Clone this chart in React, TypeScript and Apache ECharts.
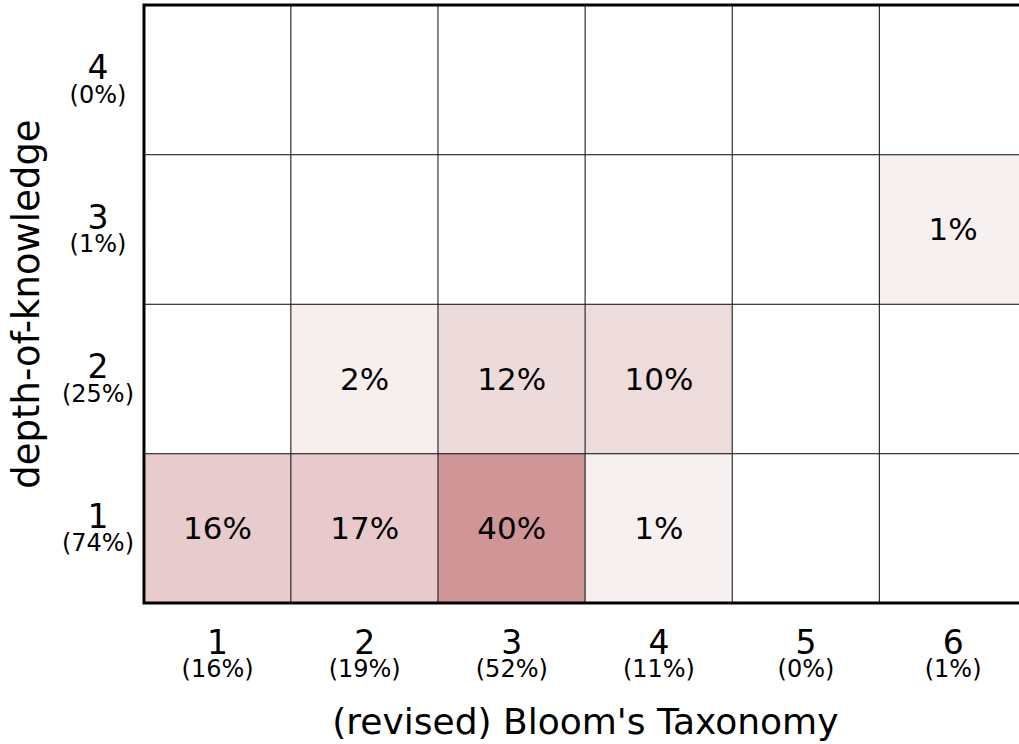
import React, { useEffect, useRef } from "react";
import * as echarts from "echarts";

const bloomLevels = ["1", "2", "3", "4", "5", "6"];
const bloomTotals = [16, 19, 52, 11, 0, 1];
const dokLevels = ["1", "2", "3", "4"];
const dokTotals = [74, 25, 1, 0];
// rows: depth-of-knowledge 1..4, columns: Bloom 1..6 (percent)
const dok1 = [16, 17, 40, 1, 0, 0];
const dok2 = [0, 2, 12, 10, 0, 0];
const dok3 = [0, 0, 0, 0, 0, 1];
const dok4 = [0, 0, 0, 0, 0, 0];
const rows = [dok1, dok2, dok3, dok4];

const xTitle = "(revised) Bloom's Taxonomy";
const yTitle = "depth-of-knowledge";

const FONT = "DejaVu Sans";

export default function App() {
  const ref = useRef<HTMLDivElement>(null);
  useEffect(() => {
    if (!ref.current) return;
    const chart = echarts.init(ref.current, null, { renderer: "svg" });
    const data: number[][] = [];
    rows.forEach((r, yi) => r.forEach((v, xi) => data.push([xi, yi, v])));
    const cellW = 147.2;
    chart.setOption({
      animation: false,
      backgroundColor: "#fff",
      textStyle: { fontFamily: FONT },
      grid: {
        left: 143.5,
        top: 5,
        width: cellW * 6,
        height: 599,
        show: true,
        borderColor: "#000",
        borderWidth: 3,
        backgroundColor: "transparent",
        z: 10,
      },
      xAxis: {
        type: "category",
        data: bloomLevels,
        axisLine: { show: false },
        axisTick: { show: false },
        splitLine: { show: false },
        axisLabel: {
          margin: 24,
          formatter: (v: string, i: number) => `{a|${v}}\n{b|(${bloomTotals[i]}%)}`,
          rich: {
            a: { fontSize: 33, fontFamily: FONT, color: "#000", lineHeight: 30 },
            b: { fontSize: 24, fontFamily: FONT, color: "#000", lineHeight: 24 },
          },
        },
        name: xTitle,
        nameLocation: "middle",
        nameGap: 100,
        nameTextStyle: { fontSize: 36, fontFamily: FONT, color: "#000" },
      },
      yAxis: {
        type: "category",
        data: dokLevels,
        axisLine: { show: false },
        axisTick: { show: false },
        splitLine: { show: false },
        axisLabel: {
          margin: 46,
          align: "center",
          formatter: (v: string, i: number) => `{a|${v}}\n{b|(${dokTotals[i]}%)}`,
          rich: {
            a: { fontSize: 33, fontFamily: FONT, color: "#000", lineHeight: 30, align: "center" },
            b: { fontSize: 24, fontFamily: FONT, color: "#000", lineHeight: 24, align: "center" },
          },
        },
        name: yTitle,
        nameLocation: "middle",
        nameGap: 99,
        nameTextStyle: { fontSize: 37, fontFamily: FONT, color: "#000" },
      },
      visualMap: {
        type: "piecewise",
        show: false,
        dimension: 2,
        pieces: [
          { value: 0, color: "#ffffff" },
          { value: 1, color: "#f7f0f0" },
          { value: 2, color: "#f7eeee" },
          { value: 10, color: "#eedcdc" },
          { value: 12, color: "#eddadb" },
          { value: 16, color: "#e8cbcd" },
          { value: 17, color: "#e8cacc" },
          { value: 40, color: "#d09697" },
        ],
      },
      series: [
        {
          type: "heatmap",
          data,
          itemStyle: { borderColor: "#111", borderWidth: 1 },
          label: {
            show: true,
            fontSize: 31,
            fontFamily: FONT,
            color: "#000",
            formatter: (p: any) => (p.value[2] > 0 ? `${p.value[2]}%` : ""),
          },
          emphasis: { disabled: true },
        },
      ],
    });
    return () => chart.dispose();
  }, []);
  return (
    <div style={{ position: "fixed", left: 0, top: 0, width: 1019, height: 744, overflow: "hidden", background: "#fff" }}>
      <div ref={ref} style={{ width: 1040, height: 744 }} />
    </div>
  );
}
